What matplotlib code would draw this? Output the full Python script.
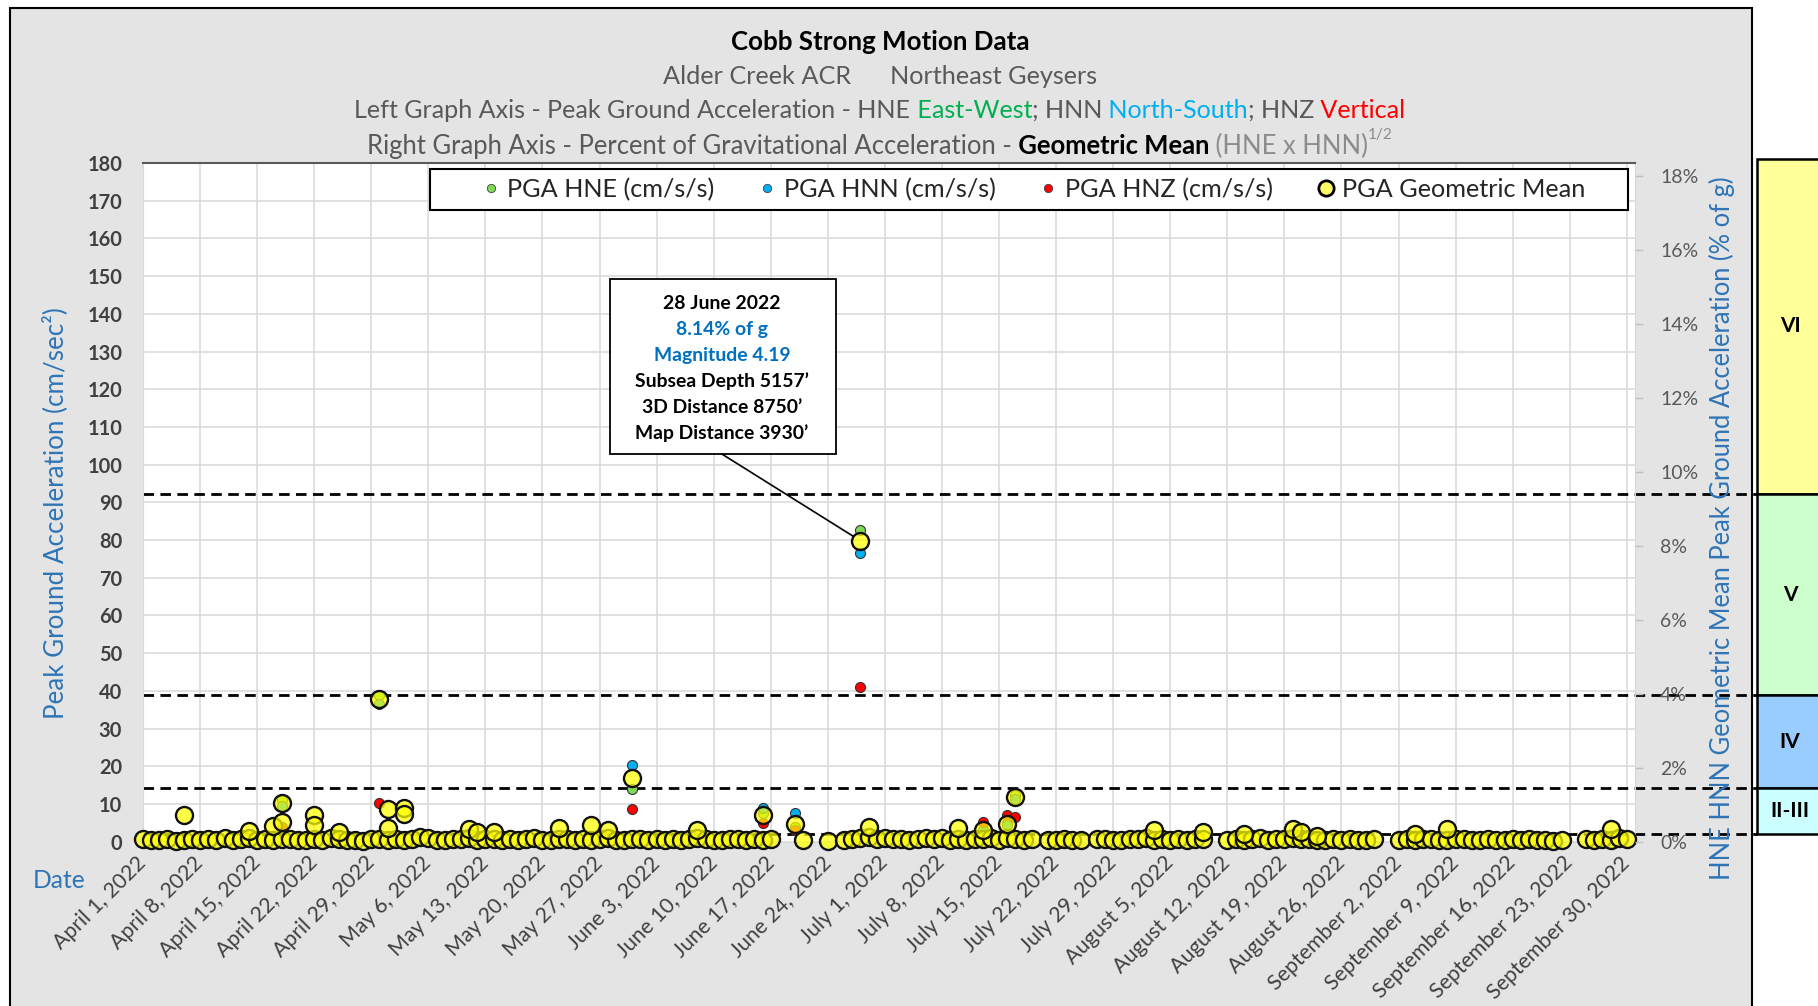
import datetime as dt
import numpy as np
import matplotlib
matplotlib.use('Agg')
import matplotlib.pyplot as plt
import matplotlib.dates as mdates
from matplotlib.lines import Line2D
from matplotlib.patches import Rectangle

plt.rcParams['font.family'] = ['Lato', 'DejaVu Sans']

W, H = 1818, 1006
G = 9.80665  # cm/s/s for 1 % of g
START = dt.date(2022, 4, 1)
END = dt.date(2022, 10, 1)

tick_labels = ['April 1, 2022', 'April 8, 2022', 'April 15, 2022', 'April 22, 2022', 'April 29, 2022',
               'May 6, 2022', 'May 13, 2022', 'May 20, 2022', 'May 27, 2022', 'June 3, 2022',
               'June 10, 2022', 'June 17, 2022', 'June 24, 2022', 'July 1, 2022', 'July 8, 2022',
               'July 15, 2022', 'July 22, 2022', 'July 29, 2022', 'August 5, 2022', 'August 12, 2022',
               'August 19, 2022', 'August 26, 2022', 'September 2, 2022', 'September 9, 2022',
               'September 16, 2022', 'September 23, 2022', 'September 30, 2022']
y_ticks = [0, 10, 20, 30, 40, 50, 60, 70, 80, 90, 100, 110, 120, 130, 140, 150, 160, 170, 180]
pct_ticks = [0, 2, 4, 6, 8, 10, 12, 14, 16, 18]

# small events: days after 1 April 2022, geometric mean PGA in cm/s/s
base_days = [
    0, 1, 2, 3, 4, 5, 6, 7, 8, 9, 10, 11, 12, 13, 14, 15, 16, 17, 18, 19,
    20, 21, 22, 23, 24, 25, 26, 27, 28, 29, 30, 31, 32, 33, 34, 35, 36, 37, 38, 39,
    40, 41, 42, 43, 44, 45, 46, 47, 48, 49, 50, 51, 52, 53, 54, 55, 56, 57, 58, 59,
    60, 61, 62, 63, 64, 65, 66, 67, 68, 69, 70, 71, 72, 73, 74, 75, 76, 77, 81, 84,
    86, 87, 88, 89, 90, 91, 92, 93, 94, 95, 96, 97, 98, 99, 100, 101, 102, 103, 104, 105,
    106, 107, 108, 109, 111, 112, 113, 114, 115, 117, 118, 119, 120, 121, 122, 123, 124, 125, 126, 127,
    128, 129, 130, 133, 134, 135, 136, 137, 138, 139, 140, 141, 142, 143, 144, 145, 146, 147, 148, 149,
    150, 151, 154, 155, 156, 157, 158, 159, 160, 161, 162, 163, 164, 165, 166, 167, 168, 169, 170, 171,
    172, 173, 174, 177, 178, 179, 180, 181, 182]
base_gm = [
    0.6, 0.4, 0.5, 0.8, 0.3, 0.5, 0.7, 0.4, 0.6, 0.5, 0.9, 0.4, 0.6, 1.1, 0.5, 0.7, 0.4, 0.6, 0.8, 0.5,
    0.4, 0.7, 0.5, 0.9, 0.6, 0.4, 0.5, 0.3, 0.6, 0.8, 0.5, 0.7, 0.4, 0.6, 1.3, 0.9, 0.5, 0.4, 0.7, 0.6,
    1.0, 0.5, 0.8, 0.6, 0.4, 0.7, 0.5, 0.6, 0.9, 0.4, 0.5, 0.8, 0.6, 0.4, 0.7, 0.5, 0.6, 0.9, 0.4, 0.5,
    0.8, 0.6, 0.5, 0.7, 0.4, 0.6, 0.5, 0.8, 1.0, 0.6, 0.4, 0.5, 0.7, 0.6, 0.4, 0.8, 0.5, 0.6, 0.4, 0.3,
    0.5, 0.8, 1.0, 1.2, 0.7, 0.9, 0.6, 0.8, 0.5, 0.7, 1.1, 0.6, 0.9, 0.5, 0.7, 0.4, 0.8, 0.6, 1.0, 0.5,
    0.9, 0.7, 0.5, 0.6, 0.4, 0.5, 0.6, 0.4, 0.5, 0.6, 0.8, 0.5, 0.4, 0.7, 0.6, 0.9, 0.5, 0.7, 0.4, 0.6,
    0.5, 0.8, 0.6, 0.5, 0.7, 0.4, 0.6, 0.9, 0.5, 0.8, 0.6, 1.0, 0.7, 0.6, 0.5, 0.4, 0.6, 0.5, 0.7, 0.4,
    0.5, 0.6, 0.4, 0.7, 0.5, 0.8, 0.6, 0.5, 0.4, 0.6, 0.7, 0.5, 0.4, 0.6, 0.5, 0.4, 0.7, 0.5, 0.6, 0.4,
    0.5, 0.3, 0.4, 0.6, 0.5, 0.7, 0.4, 1.0, 0.6]

# larger events
big_days = [5, 13, 16, 17, 17, 21, 21, 24, 29, 30, 30, 32, 32, 40, 41, 43, 51, 55, 57, 60,
            68, 76, 80, 88, 89, 100, 103, 106, 107, 124, 130, 135, 141, 142, 144, 156, 160, 180]
big_gm = [7.0, 2.8, 4.1, 10.3, 5.2, 7.0, 4.5, 2.6, 37.8, 8.7, 3.6, 8.9, 7.3, 3.5, 2.6, 2.6, 3.6, 4.4, 3.1, 16.9,
          3.1, 7.0, 4.7, 79.8, 4.0, 3.6, 3.0, 4.7, 11.9, 3.1, 2.6, 2.1, 3.3, 2.6, 1.5, 2.1, 3.3, 3.3]

# single components where they show
comp_days = [17, 29, 60, 76, 80, 88, 103, 106, 107]
hne = [11.0, 39.0, 13.9, 7.6, 4.0, 82.7, 2.8, 5.0, 12.4]
hnn = [9.6, 36.6, 20.3, 8.9, 7.6, 76.6, 3.1, 4.4, 11.3]
hnz = [4.0, 10.3, 8.7, 4.9, 3.0, 41.1, 5.3, 7.1, 6.6]

# intensity bands (cm/s/s)
mmi_labels = ['VI', 'V', 'IV', 'II-III']
mmi_lo = [92.3, 38.8, 14.3, 2.1]
mmi_hi = [181.0, 92.3, 38.8, 14.3]
mmi_colors = ['#FFFF99', '#CCFFCC', '#99CCFF', '#CCFFFF']

BLUE = '#2E75B6'
GREY = '#595959'
C_HNE, C_HNN, C_HNZ = '#7ED957', '#00B0F0', '#FF0000'

fig = plt.figure(figsize=(W / 100, H / 100), dpi=100)
R = fig.canvas.get_renderer()


def fitted(s, target, weight='normal', size=20):
    t = fig.text(0, 0, s, fontsize=size, fontweight=weight)
    w = t.get_window_extent(R).width
    t.remove()
    return size * target / w


def rich_line(pieces, cx, base_y, width):
    arts = []
    for txt, color, weight, sup in pieces:
        t = fig.text(0, 0, txt, color=color, fontweight=weight,
                     fontsize=20 * (0.6 if sup else 1), ha='left', va='baseline')
        arts.append((t, sup))
    k = width / sum(t.get_window_extent(R).width for t, _ in arts)
    for t, _ in arts:
        t.set_fontsize(t.get_fontsize() * k)
    ws = [t.get_window_extent(R).width for t, _ in arts]
    x = cx - sum(ws) / 2
    for (t, sup), w in zip(arts, ws):
        rise = 1.0 * t.get_fontsize() * 100 / 72 if sup else 0
        t.set_position((x / W, (H - base_y + rise) / H))
        x += w


# grey chart panel
fig.add_artist(Rectangle((10 / W, -0.01), (1752 - 10) / W, (H - 8) / H + 0.01,
                         transform=fig.transFigure, facecolor='#E4E4E4',
                         edgecolor='black', lw=1.5, zorder=-1))

L, T, Rr, B = 143, 163, 1635, 841.7
ax = fig.add_axes([L / W, 1 - B / H, (Rr - L) / W, (B - T) / H])
ax.set_facecolor('white')
x0 = mdates.date2num(START)
ax.set_xlim(x0, mdates.date2num(END))
ax.set_ylim(0, 180)

tick_pos = [mdates.date2num(dt.datetime.strptime(s, '%B %d, %Y')) for s in tick_labels]
ax.set_xticks(tick_pos)
ax.set_xticklabels(tick_labels, rotation=45, ha='right', va='center', rotation_mode='anchor',
                   fontsize=fitted('September 30, 2022', 192), color='#404040')
ax.tick_params(axis='x', length=0, pad=13)
ax.set_yticks(y_ticks)
ax.set_yticklabels([str(v) for v in y_ticks], fontweight='bold',
                   fontsize=fitted('180', 35, 'bold'), color='#404040')
ax.tick_params(axis='y', length=0, pad=15)
ax.grid(True, color='#D9D9D9', lw=1.1, zorder=0)
ax.set_axisbelow(True)
for side in ['left', 'right', 'bottom']:
    ax.spines[side].set_color('#D9D9D9')
ax.spines['top'].set_color('#595959')
ax.spines['top'].set_linewidth(1.5)

ax2 = ax.twinx()
ax2.set_ylim(0, 180 / G)
ax2.set_yticks(pct_ticks)
ax2.set_yticklabels([f'{v}%' for v in pct_ticks], fontsize=fitted('18%', 38), color=GREY)
ax2.tick_params(axis='y', length=6, width=1, color='#BFBFBF', pad=12)
for s in ax2.spines.values():
    s.set_visible(False)

# intensity threshold lines run out to the band column
ext = (1757 - L) / (Rr - L)
for v in mmi_lo:
    ax.plot([0, ext], [v, v], transform=ax.get_yaxis_transform(), clip_on=False,
            color='black', lw=2, ls=(0, (3.8, 2.3)), zorder=2)

# data
cd = x0 + np.array(comp_days)
kw = dict(s=52, edgecolors='#333333', linewidths=0.8, zorder=3, clip_on=False)
ax.scatter(cd, hne, color=C_HNE, **kw)
ax.scatter(cd, hnn, color=C_HNN, **kw)
ax.scatter(cd, hnz, color=C_HNZ, **kw)
gm_face = (1.0, 1.0, 0.0, 0.72)
ax.scatter(x0 + np.array(base_days), base_gm, s=150, facecolors=[gm_face], edgecolors='#111111',
           linewidths=1.7, zorder=4, clip_on=False)
ax.scatter(x0 + np.array(big_days), big_gm, s=150, facecolors=[gm_face], edgecolors='#111111',
           linewidths=1.7, zorder=4, clip_on=False)

# legend
ax.add_patch(Rectangle((0.1924, 0.9307), 0.8029, 0.0604, transform=ax.transAxes,
                       facecolor='white', edgecolor='black', lw=1.5, zorder=5))
handles = [Line2D([], [], ls='', marker='o', ms=6, mfc=C_HNE, mec='#444444', mew=0.6),
           Line2D([], [], ls='', marker='o', ms=6, mfc=C_HNN, mec='#444444', mew=0.6),
           Line2D([], [], ls='', marker='o', ms=6, mfc=C_HNZ, mec='#444444', mew=0.6),
           Line2D([], [], ls='', marker='o', ms=11, mfc='#FFFF66', mec='black', mew=2.0)]
labels = ['PGA HNE (cm/s/s)', 'PGA HNN (cm/s/s)', 'PGA HNZ (cm/s/s)', 'PGA Geometric Mean']
leg = ax.legend(handles, labels, ncol=4, loc='center', bbox_to_anchor=(0.597, 0.961),
                frameon=False, fontsize=fitted('PGA HNE (cm/s/s)', 207), handlelength=0.7,
                handletextpad=0.3, columnspacing=1.75, labelcolor='#262626')
leg.set_zorder(6)

# callout for the 28 June event
ax.add_patch(Rectangle((0.313, 0.5712), 0.1515, 0.2578, transform=ax.transAxes,
                       facecolor='white', edgecolor='black', lw=1.3, zorder=5))
box_lines = [('28 June 2022', 'black'), ('8.14% of g', '#0070C0'), ('Magnitude 4.19', '#0070C0'),
             ('Subsea Depth 5157\u2019', 'black'), ('3D Distance 8750\u2019', 'black'),
             ('Map Distance 3930\u2019', 'black')]
box_fs = fitted('Map Distance 3930\u2019', 174, 'bold')
for i, (s, c) in enumerate(box_lines):
    ax.text(0.388, 0.7925 - i * 0.0381, s, transform=ax.transAxes, ha='center', va='center',
            fontsize=box_fs, fontweight='bold', color=c, zorder=6)
ax.annotate('', xy=(x0 + 88, 79.8), xytext=(0.388, 0.5712), textcoords='axes fraction',
            arrowprops=dict(arrowstyle='-', color='black', lw=1.2, shrinkA=0, shrinkB=6), zorder=6)

# intensity column
axb = fig.add_axes([1757 / W, 1 - B / H, 66 / W, (B - T) / H])
axb.set_xlim(0, 1)
axb.set_ylim(0, 180)
axb.axis('off')
for lab, lo, hi, c in zip(mmi_labels, mmi_lo, mmi_hi, mmi_colors):
    axb.add_patch(Rectangle((0, lo), 1.3, hi - lo, facecolor=c, edgecolor='black', lw=1.8, clip_on=False))
    axb.text(0.5, (lo + hi) / 2, lab, ha='center', va='center', fontsize=15, fontweight='bold', color='black')

# titles
rich_line([('Cobb Strong Motion Data', 'black', 'bold', False)], 880, 50, 297)
rich_line([('Alder Creek ACR      Northeast Geysers', GREY, 'normal', False)], 880, 84, 436)
rich_line([('Left Graph Axis - Peak Ground Acceleration - HNE', GREY, 'normal', False),
           (' East-West', '#00B050', 'normal', False),
           ('; HNN', GREY, 'normal', False),
           (' North-South', '#00B0F0', 'normal', False),
           ('; HNZ', GREY, 'normal', False),
           (' Vertical', '#FF0000', 'normal', False)], 880, 118, 1055)
rich_line([('Right Graph Axis - Percent of Gravitational Acceleration -', GREY, 'normal', False),
           (' Geometric Mean', 'black', 'bold', False),
           (' (HNE x HNN)', '#8C8C8C', 'normal', False),
           ('1/2', '#8C8C8C', 'normal', True)], 880, 154, 1029)

fig.text(55 / W, 1 - 513 / H, 'Peak Ground Acceleration (cm/sec\u00b2)', rotation=90, ha='center',
         va='center', color=BLUE, fontsize=fitted('Peak Ground Acceleration (cm/sec\u00b2)', 412))
fig.text(1722 / W, 1 - 528 / H, 'HNE HNN Geometric Mean Peak Ground Acceleration (% of g)', rotation=90,
         ha='center', va='center', color=BLUE,
         fontsize=fitted('HNE HNN Geometric Mean Peak Ground Acceleration (% of g)', 705))
fig.text(59 / W, 1 - 880 / H, 'Date', ha='center', va='center', color=BLUE, fontsize=fitted('Date', 53))

fig.savefig('out.png', dpi=100)
